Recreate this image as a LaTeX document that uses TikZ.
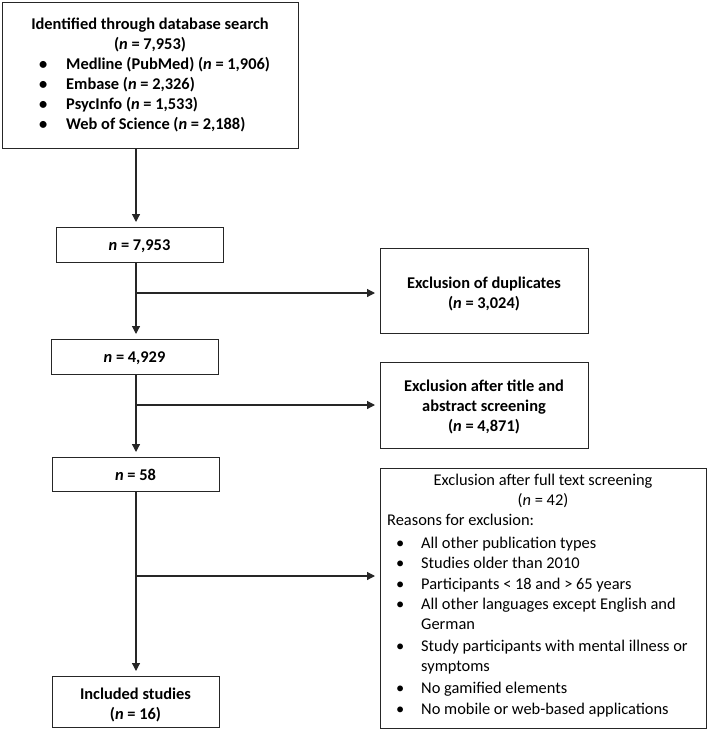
\documentclass[tikz,border=0pt]{standalone}
\usepackage{fontspec}
\setmainfont{Carlito}
\usetikzlibrary{arrows.meta,calc}
\tikzset{
  box/.style={draw=black!85, line width=1.2pt, inner sep=0pt, anchor=north west},
  arr/.style={draw=black!85, line width=1.2pt, -{Triangle[length=8pt,width=8pt]}, shorten >=5pt},
  txt/.style={font=\fontsize{16.4}{20}\selectfont\bfseries, inner sep=0pt, anchor=base},
  rtxt/.style={font=\fontsize{16.4}{20}\selectfont, inner sep=0pt, anchor=base},
  bul/.style={txt, anchor=base west},
  rbul/.style={rtxt, anchor=base west},
}
\newcommand{\bxnode}[6]{% name, x1, y1, x2, y2
  \node[box, minimum width=#4pt-#2pt, minimum height=#5pt-#3pt] (#1) at (#2,#3) {#6};}
\begin{document}
\begin{tikzpicture}[x=1pt,y=-1pt]
\useasboundingbox (0,0) rectangle (708,736);
% boxes
\bxnode{b1}{2}{2}{298}{148}{}
\bxnode{b2}{56}{227}{223}{262}{}
\bxnode{b3}{51}{339}{218}{374}{}
\bxnode{b4}{52}{457}{219}{491}{}
\bxnode{b5}{52}{676}{219}{727}{}
\bxnode{dup}{380}{248}{588}{333}{}
\bxnode{tia}{380}{362}{588}{448}{}
\bxnode{ful}{380}{468}{706}{728}{}
% box 1 text
\node[txt] (t1a) at (150,29) {Identified through database search};
\node[txt] (t1b) at (150,49) {(\textit{n} = 7,953)};
\foreach \y/\t [count=\i] in {69/{Medline (PubMed) (\textit{n} = 1,906)},89/{Embase (\textit{n} = 2,326)},109/{PsycInfo (\textit{n} = 1,533)},129/{Web of Science (\textit{n} = 2,188)}}{
  \node[bul] (b1d\i) at (39,\y) {\textbullet};
  \node[bul] (b1t\i) at (66,\y) {\t};
}
% left boxes text
\node[txt] (t2) at (139.5,250) {\textit{n} = 7,953};
\node[txt] (t3) at (134.5,362) {\textit{n} = 4,929};
\node[txt] (t4) at (135.5,480) {\textit{n} = 58};
\node[txt] (t5a) at (135.5,699) {Included studies};
\node[txt] (t5b) at (135.5,719) {(\textit{n} = 16)};
% right boxes text
\node[txt] (tda) at (484,288) {Exclusion of duplicates};
\node[txt] (tdb) at (484,308) {(\textit{n} = 3,024)};
\node[txt] (tta) at (484,391) {Exclusion after title and};
\node[txt] (ttb) at (484,411) {abstract screening};
\node[txt] (ttc) at (484,431) {(\textit{n} = 4,871)};
\node[rtxt] (tfa) at (543,485) {Exclusion after full text screening};
\node[rtxt] (tfb) at (543,505) {(\textit{n} = 42)};
\node[rbul] (tfc) at (387,525) {Reasons for exclusion:};
\foreach \y/\t [count=\i] in {548/{All other publication types},568/{Studies older than 2010},589/{Participants < 18 and > 65 years},609/{All other languages except English and},651/{Study participants with mental illness or},693/{No gamified elements},714/{No mobile or web-based applications}}{
  \node[rbul] (fd\i) at (396,\y) {\textbullet};
  \node[rbul] (ft\i) at (421,\y) {\t};
}
\node[rbul] (fx1) at (421,629) {German};
\node[rbul] (fx2) at (421,671) {symptoms};
% connectors
\coordinate (sp) at (136,0);
\coordinate (j1) at (136,293);
\coordinate (j2) at (136,405);
\coordinate (j3) at (136,576);
\draw[arr] (sp |- b1.south) -- (sp |- b2.north);
\draw[arr] (sp |- b2.south) -- (sp |- b3.north);
\draw[arr] (sp |- b3.south) -- (sp |- b4.north);
\draw[arr] (sp |- b4.south) -- (sp |- b5.north);
\draw[arr] (j1) -- (j1 -| dup.west);
\draw[arr] (j2) -- (j2 -| tia.west);
\draw[arr] (j3) -- (j3 -| ful.west);
\end{tikzpicture}
\end{document}
